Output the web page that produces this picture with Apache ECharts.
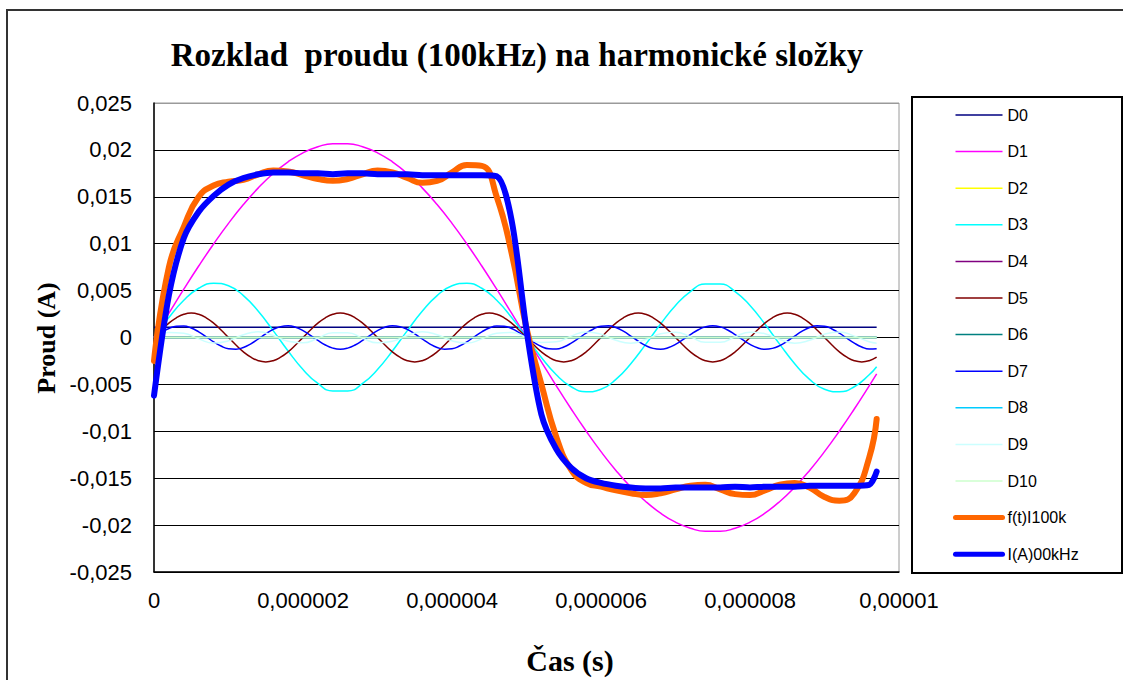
<!DOCTYPE html>
<html>
<head>
<meta charset="utf-8">
<script src="https://cdn.jsdelivr.net/npm/echarts@6/dist/echarts.min.js"></script>
<style>
  html, body { margin: 0; padding: 0; background: #fff; }
  #chart { width: 1123px; height: 680px; }
</style>
</head>
<body>
<div id="chart"></div>
<script>
// Sample times (s), one period of the 100 kHz current
const timeS = [
  0, 2e-7, 4e-7, 6e-7, 8e-7, 1.0e-6, 1.2e-6, 1.4e-6, 1.6e-6, 1.8e-6,
  2.0e-6, 2.2e-6, 2.4e-6, 2.6e-6, 2.8e-6, 3.0e-6, 3.2e-6, 3.4e-6, 3.6e-6, 3.8e-6,
  4.0e-6, 4.2e-6, 4.4e-6, 4.6e-6, 4.8e-6, 5.0e-6, 5.2e-6, 5.4e-6, 5.6e-6, 5.8e-6,
  6.0e-6, 6.2e-6, 6.4e-6, 6.6e-6, 6.8e-6, 7.0e-6, 7.2e-6, 7.4e-6, 7.6e-6, 7.8e-6,
  8.0e-6, 8.2e-6, 8.4e-6, 8.6e-6, 8.8e-6, 9.0e-6, 9.2e-6, 9.4e-6, 9.6e-6, 9.7e-6
];
// Denser sampling for the faster harmonics (D5, D7)
const timeFineS = [
  0, 1e-7, 2e-7, 3e-7, 4e-7, 5e-7, 6e-7, 7e-7, 8e-7, 9e-7,
  1.0e-6, 1.1e-6, 1.2e-6, 1.3e-6, 1.4e-6, 1.5e-6, 1.6e-6, 1.7e-6, 1.8e-6, 1.9e-6,
  2.0e-6, 2.1e-6, 2.2e-6, 2.3e-6, 2.4e-6, 2.5e-6, 2.6e-6, 2.7e-6, 2.8e-6, 2.9e-6,
  3.0e-6, 3.1e-6, 3.2e-6, 3.3e-6, 3.4e-6, 3.5e-6, 3.6e-6, 3.7e-6, 3.8e-6, 3.9e-6,
  4.0e-6, 4.1e-6, 4.2e-6, 4.3e-6, 4.4e-6, 4.5e-6, 4.6e-6, 4.7e-6, 4.8e-6, 4.9e-6,
  5.0e-6, 5.1e-6, 5.2e-6, 5.3e-6, 5.4e-6, 5.5e-6, 5.6e-6, 5.7e-6, 5.8e-6, 5.9e-6,
  6.0e-6, 6.1e-6, 6.2e-6, 6.3e-6, 6.4e-6, 6.5e-6, 6.6e-6, 6.7e-6, 6.8e-6, 6.9e-6,
  7.0e-6, 7.1e-6, 7.2e-6, 7.3e-6, 7.4e-6, 7.5e-6, 7.6e-6, 7.7e-6, 7.8e-6, 7.9e-6,
  8.0e-6, 8.1e-6, 8.2e-6, 8.3e-6, 8.4e-6, 8.5e-6, 8.6e-6, 8.7e-6, 8.8e-6, 8.9e-6,
  9.0e-6, 9.1e-6, 9.2e-6, 9.3e-6, 9.4e-6, 9.5e-6, 9.6e-6, 9.7e-6
];
// Constant components only need the two end samples
const levelTimeS = [0, 9.7e-6];

// Harmonic components (A)
const d0 = [0.0011, 0.0011];
const d1 = [
  0, 0.00259, 0.00515, 0.00762, 0.00997, 0.01217, 0.01417, 0.01595, 0.01748, 0.01873,
  0.01969, 0.02033, 0.02066, 0.02066, 0.02033, 0.01969, 0.01873, 0.01748, 0.01595, 0.01417,
  0.01217, 0.00997, 0.00762, 0.00515, 0.00259, 0, -0.00259, -0.00515, -0.00762, -0.00997,
  -0.01217, -0.01417, -0.01595, -0.01748, -0.01873, -0.01969, -0.02033, -0.02066, -0.02066, -0.02033,
  -0.01969, -0.01873, -0.01748, -0.01595, -0.01417, -0.01217, -0.00997, -0.00762, -0.00515, -0.00388
];
const d2 = [0, 0];
const d3 = [
  0, 0.00213, 0.00397, 0.00525, 0.00579, 0.00552, 0.00447, 0.00279, 0.00073, -0.00144,
  -0.00341, -0.00490, -0.00570, -0.00570, -0.00490, -0.00341, -0.00144, 0.00073, 0.00279, 0.00447,
  0.00552, 0.00579, 0.00525, 0.00397, 0.00213, 0, -0.00213, -0.00397, -0.00525, -0.00579,
  -0.00552, -0.00447, -0.00279, -0.00073, 0.00144, 0.00341, 0.00490, 0.00570, 0.00570, 0.00490,
  0.00341, 0.00144, -0.00073, -0.00279, -0.00447, -0.00552, -0.00579, -0.00525, -0.00397, -0.00311
];
const d4 = [0, 0];
const d5 = [
  0, 0.00080, 0.00153, 0.00210, 0.00247, 0.00260, 0.00247, 0.00210, 0.00153, 0.00080,
  0, -0.00080, -0.00153, -0.00210, -0.00247, -0.00260, -0.00247, -0.00210, -0.00153, -0.00080,
  0, 0.00080, 0.00153, 0.00210, 0.00247, 0.00260, 0.00247, 0.00210, 0.00153, 0.00080,
  0, -0.00080, -0.00153, -0.00210, -0.00247, -0.00260, -0.00247, -0.00210, -0.00153, -0.00080,
  0, 0.00080, 0.00153, 0.00210, 0.00247, 0.00260, 0.00247, 0.00210, 0.00153, 0.00080,
  0, -0.00080, -0.00153, -0.00210, -0.00247, -0.00260, -0.00247, -0.00210, -0.00153, -0.00080,
  0, 0.00080, 0.00153, 0.00210, 0.00247, 0.00260, 0.00247, 0.00210, 0.00153, 0.00080,
  0, -0.00080, -0.00153, -0.00210, -0.00247, -0.00260, -0.00247, -0.00210, -0.00153, -0.00080,
  0, 0.00080, 0.00153, 0.00210, 0.00247, 0.00260, 0.00247, 0.00210, 0.00153, 0.00080,
  0, -0.00080, -0.00153, -0.00210, -0.00247, -0.00260, -0.00247, -0.00210
];
const d6 = [0, 0];
const d7 = [
  0, 0.00053, 0.00096, 0.00121, 0.00123, 0.00101, 0.00060, 0.00008, -0.00046, -0.00091,
  -0.00119, -0.00124, -0.00106, -0.00067, -0.00016, 0.00039, 0.00086, 0.00116, 0.00125, 0.00110,
  0.00073, 0.00023, -0.00031, -0.00080, -0.00113, -0.00125, -0.00113, -0.00080, -0.00031, 0.00023,
  0.00073, 0.00110, 0.00125, 0.00116, 0.00086, 0.00039, -0.00016, -0.00067, -0.00106, -0.00124,
  -0.00119, -0.00091, -0.00046, 0.00008, 0.00060, 0.00101, 0.00123, 0.00121, 0.00096, 0.00053,
  0, -0.00053, -0.00096, -0.00121, -0.00123, -0.00101, -0.00060, -0.00008, 0.00046, 0.00091,
  0.00119, 0.00124, 0.00106, 0.00067, 0.00016, -0.00039, -0.00086, -0.00116, -0.00125, -0.00110,
  -0.00073, -0.00023, 0.00031, 0.00080, 0.00113, 0.00125, 0.00113, 0.00080, 0.00031, -0.00023,
  -0.00073, -0.00110, -0.00125, -0.00116, -0.00086, -0.00039, 0.00016, 0.00067, 0.00106, 0.00124,
  0.00119, 0.00091, 0.00046, -0.00008, -0.00060, -0.00101, -0.00123, -0.00121
];
const d8 = [0, 0];
const d9 = [
  0, 0.00054, 0.00046, -0.00015, -0.00059, -0.00035, 0.00029, 0.00060, 0.00022, -0.00041,
  -0.00057, -0.00008, 0.00051, 0.00051, -0.00008, -0.00057, -0.00041, 0.00022, 0.00060, 0.00029,
  -0.00035, -0.00059, -0.00015, 0.00046, 0.00054, 0, -0.00054, -0.00046, 0.00015, 0.00059,
  0.00035, -0.00029, -0.00060, -0.00022, 0.00041, 0.00057, 0.00008, -0.00051, -0.00051, 0.00008,
  0.00057, 0.00041, -0.00022, -0.00060, -0.00029, 0.00035, 0.00059, 0.00015, -0.00046, -0.00060
];
const d10 = [0, 0];

// Reconstructed waveform f(t) and the measured current I(A)
const fReconstructed = [
  -0.0025, 0.0075, 0.0118, 0.0150, 0.0162, 0.0166, 0.0168, 0.0174, 0.0178, 0.0177,
  0.0173, 0.0169, 0.0167, 0.0169, 0.0174, 0.0178, 0.0176, 0.0170, 0.0165, 0.0167,
  0.0176, 0.0184, 0.0183, 0.0150, 0.0090, 0.0010, -0.0050, -0.0106, -0.0141, -0.0155,
  -0.0159, -0.0163, -0.0166, -0.0168, -0.0166, -0.0162, -0.0158, -0.0157, -0.0162, -0.0167,
  -0.0168, -0.0163, -0.0157, -0.0155, -0.0160, -0.0170, -0.0174, -0.0166, -0.0128, -0.0087
];
const iMeasured = [
  -0.0062, 0.0045, 0.0106, 0.0134, 0.0151, 0.0163, 0.0170, 0.0174, 0.0176, 0.0176,
  0.0175, 0.0175, 0.0174, 0.0175, 0.0175, 0.0174, 0.0174, 0.0174, 0.0173, 0.0173,
  0.0173, 0.0173, 0.0173, 0.0172, 0.0125, 0.0008, -0.0082, -0.0119, -0.0139, -0.0150,
  -0.0155, -0.0158, -0.0160, -0.0161, -0.0161, -0.0160, -0.0160, -0.0160, -0.0160, -0.0159,
  -0.0160, -0.0159, -0.0159, -0.0159, -0.0158, -0.0158, -0.0158, -0.0158, -0.0157, -0.0143
];

// Axis tick labels (Czech decimal comma)
const xTickLabels = ['0', '0,000002', '0,000004', '0,000006', '0,000008', '0,00001'];
const yTickLabels = ['-0,025', '-0,02', '-0,015', '-0,01', '-0,005', '0', '0,005', '0,01', '0,015', '0,02', '0,025'];

const X_MIN = 0, X_MAX = 0.00001, X_STEP = 0.000002;
const Y_MIN = -0.025, Y_MAX = 0.025, Y_STEP = 0.005;

const pairs = (ts, vs) => ts.map((t, i) => [t, vs[i]]);

function thin(name, ts, vs, color) {
  return {
    name, type: 'line', data: pairs(ts, vs), symbol: 'none', smooth: true,
    lineStyle: { color, width: 1.5 }, itemStyle: { color }, z: 3, silent: true
  };
}
function thick(name, ts, vs, color, smooth) {
  return {
    name, type: 'line', data: pairs(ts, vs), symbol: 'none', smooth,
    lineStyle: { color, width: 6, join: 'round', cap: 'round' }, itemStyle: { color }, z: 4, silent: true
  };
}

const serifBold = size => `bold ${size}px "Liberation Serif", "Times New Roman", serif`;
const sans = '"Liberation Sans", Arial, sans-serif';

// grey top gridline doubles as the plot frame; the rest are black
const gridColors = yTickLabels.map((_, i) => (i === yTickLabels.length - 1 ? '#9a9a9a' : '#000'));

const legendNames = ['D0', 'D1', 'D2', 'D3', 'D4', 'D5', 'D6', 'D7', 'D8', 'D9', 'D10', 'f(t)I100k', 'I(A)00kHz'];
const legendData = legendNames.map((name, i) => ({
  name,
  lineStyle: { width: i >= 11 ? 5 : 1.5 }
}));

const chart = echarts.init(document.getElementById('chart'), null, { renderer: 'svg' });
chart.setOption({
  animation: false,
  backgroundColor: '#fff',
  grid: { left: 154, top: 103, right: 224, bottom: 108, show: true, borderColor: '#9a9a9a', borderWidth: 1, backgroundColor: 'transparent' },
  xAxis: {
    type: 'value', min: X_MIN, max: X_MAX, interval: X_STEP,
    axisLine: { show: true, onZero: false, lineStyle: { color: '#000', width: 1.5 } },
    axisTick: { show: false },
    splitLine: { show: false },
    axisLabel: {
      margin: 17, color: '#000', fontFamily: sans, fontSize: 22,
      formatter: v => xTickLabels[Math.round((v - X_MIN) / X_STEP)]
    }
  },
  yAxis: {
    type: 'value', min: Y_MIN, max: Y_MAX, interval: Y_STEP,
    axisLine: { show: true, lineStyle: { color: '#000', width: 1.5 } },
    axisTick: { show: false },
    splitLine: { show: true, lineStyle: { color: gridColors, width: 1.2 } },
    axisLabel: {
      margin: 22, color: '#000', fontFamily: sans, fontSize: 22,
      formatter: v => yTickLabels[Math.round((v - Y_MIN) / Y_STEP)]
    }
  },
  legend: {
    orient: 'vertical', left: 953, top: 107, padding: 0,
    itemWidth: 47, itemHeight: 16, itemGap: 20.6,
    itemStyle: { opacity: 0 },
    textStyle: { fontFamily: sans, fontSize: 16, color: '#000', lineHeight: 16 },
    selectedMode: false,
    data: legendData
  },
  graphic: [
    { type: 'rect', shape: { x: 7, y: 10, width: 1200, height: 800 }, style: { fill: 'none', stroke: '#333', lineWidth: 2 }, silent: true, z: 0 },
    { type: 'rect', shape: { x: 912, y: 97, width: 210, height: 476 }, style: { fill: 'none', stroke: '#000', lineWidth: 2 }, silent: true },
    { type: 'text', x: 517, y: 55, silent: true,
      style: { text: 'Rozklad  proudu (100kHz) na harmonické složky', font: serifBold(33), fill: '#000', textAlign: 'center', textVerticalAlign: 'middle' } },
    { type: 'text', x: 46, y: 338, rotation: Math.PI / 2, silent: true,
      style: { text: 'Proud (A)', font: serifBold(26), fill: '#000', textAlign: 'center', textVerticalAlign: 'middle' } },
    { type: 'text', x: 570, y: 660, silent: true,
      style: { text: 'Čas (s)', font: serifBold(30), fill: '#000', textAlign: 'center', textVerticalAlign: 'middle' } }
  ],
  series: [
    thin('D0', levelTimeS, d0, '#000080'),
    thin('D1', timeS, d1, '#FF00FF'),
    thin('D2', levelTimeS, d2, '#FFFF00'),
    thin('D3', timeS, d3, '#00FFFF'),
    thin('D4', levelTimeS, d4, '#800080'),
    thin('D5', timeFineS, d5, '#800000'),
    thin('D6', levelTimeS, d6, '#008080'),
    thin('D7', timeFineS, d7, '#0000FF'),
    thin('D8', levelTimeS, d8, '#00CCFF'),
    thin('D9', timeS, d9, '#CCFFFF'),
    thin('D10', levelTimeS, d10, '#CCFFCC'),
    thick('f(t)I100k', timeS, fReconstructed, '#FF6600', true),
    thick('I(A)00kHz', timeS, iMeasured, '#0000FF', 0.3)
  ]
});
</script>
</body>
</html>
